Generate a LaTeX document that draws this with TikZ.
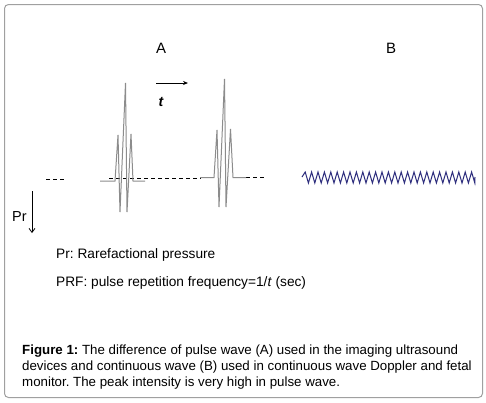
\documentclass[tikz,border=0pt]{standalone}
\usepackage{fontspec}
\setmainfont{Liberation Sans}
\usetikzlibrary{arrows.meta}
\definecolor{framegray}{RGB}{160,160,160}
\definecolor{pulsegray}{RGB}{140,140,140}
\definecolor{wavenavy}{RGB}{45,45,125}
\begin{document}
\frenchspacing
\begin{tikzpicture}[x=1pt,y=-1pt,
  pulse/.style={draw=pulsegray,line width=1pt,line join=miter},
  baseline dash/.style={draw=black,dash pattern=on 4pt off 3pt,line width=0.7pt},
  label/.style={inner sep=0pt,font=\fontsize{13.7}{16}\selectfont},
  bigletter/.style={inner sep=0pt,font=\fontsize{15}{17}\selectfont}]
\useasboundingbox (0,0) rectangle (486,402);
\fill[white] (0,0) rectangle (486,402);
\draw[framegray,line width=1pt,rounded corners=4pt] (4.5,4.5) rectangle (482.5,397.5);
% labels A, B
\node[bigletter] (labA) at (161,48) {A};
\node[bigletter] (labB) at (391,48) {B};
% t arrow
\coordinate (tstart) at (156,83);
\coordinate (tend) at (188,83);
\draw[-{Stealth[length=5pt,width=4pt]},line width=0.8pt] (tstart) -- (tend);
\node[inner sep=0pt,font=\fontsize{14}{16}\selectfont\bfseries\itshape] (tlab) at (161,102) {t};
% dashed baselines
\coordinate (d1a) at (46,179); \coordinate (d1b) at (64,179);
\draw[baseline dash] (d1a) -- (d1b);
\coordinate (d2a) at (109,178); \coordinate (d2b) at (201,178);
\draw[baseline dash] (d2a) -- (d2b);
\coordinate (d3a) at (246,177.5); \coordinate (d3b) at (265,177.5);
\draw[baseline dash] (d3a) -- (d3b);
% pulse 1
\draw[pulse] (100,181) -- (115,181) -- (118,135) -- (120,212) -- (125.5,83) -- (127,212) -- (131,134) -- (133,181) -- (145,181);
% pulse 2
\draw[pulse] (200,177.5) -- (214,177.5) -- (217,130) -- (219,207) -- (224.5,79) -- (226,207) -- (230.5,129) -- (233,177.5) -- (246,177.5);
% Pr arrow
\coordinate (prs) at (32,191);
\coordinate (pre) at (32,233);
\draw[-{Straight Barb[length=4pt,width=6pt]},line width=0.8pt] (prs) -- (pre);
\node[inner sep=0pt,anchor=base west,font=\fontsize{14.5}{16}\selectfont] (prlab) at (12,221) {Pr};
% continuous wave
\draw[wavenavy,line width=1pt,line join=miter]
  (302,177) \foreach \i in {0,...,26} { -- ({302+3.2+\i*6.4},172) -- ({302+6.4+\i*6.4},183) } -- (475,177);
% legend text
\node[label,anchor=base west] (leg1) at (56,258) {Pr: Rarefactional pressure};
\node[label,anchor=base west] (leg2) at (56,286) {PRF: pulse repetition frequency=1/\textit{t} (sec)};
% caption
\node[anchor=north west,inner sep=0pt,align=left,font=\fontsize{13.3}{16}\selectfont] (cap) at (22,345)
{\textbf{Figure 1:} The difference of pulse wave (A) used in the imaging ultrasound\\
devices and continuous wave (B) used in continuous wave Doppler and fetal\\
monitor. The peak intensity is very high in pulse wave.};
\end{tikzpicture}
\end{document}
